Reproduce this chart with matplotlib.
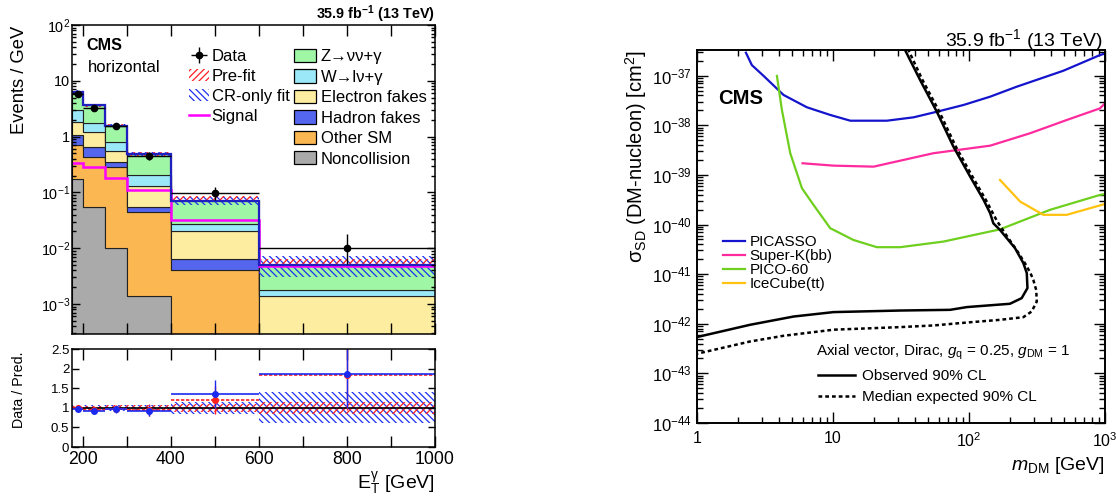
import matplotlib
matplotlib.use("Agg")
import matplotlib.pyplot as plt
import numpy as np
from matplotlib.patches import Patch
from matplotlib.lines import Line2D
from matplotlib.ticker import FixedLocator, FixedFormatter, LogLocator, NullFormatter, MultipleLocator, FuncFormatter

plt.rcParams['font.family'] = ['Liberation Sans', 'DejaVu Sans']
plt.rcParams['mathtext.fontset'] = 'custom'
plt.rcParams['mathtext.rm'] = 'Liberation Sans'
plt.rcParams['mathtext.it'] = 'Liberation Sans:italic'
plt.rcParams['mathtext.bf'] = 'Liberation Sans:bold'
plt.rcParams['mathtext.default'] = 'regular'
plt.rcParams['hatch.linewidth'] = 0.9

# ---- left: photon E_T spectrum, horizontal category ----
edges = [175, 200, 250, 300, 400, 600, 1000]
noncoll = [0.174, 0.055, 0.0099, 0.0014, 0.0, 0.0]
other_sm = [0.536, 0.381, 0.28, 0.0426, 0.0041, 0.0001]
hadron = [0.35, 0.224, 0.065, 0.011, 0.0022, 0.00005]
electron = [0.78, 0.53, 0.205, 0.075, 0.014, 0.00125]
wlnug = [1.13, 0.53, 0.23, 0.075, 0.0071, 0.0004]
znng = [3.43, 1.93, 0.79, 0.285, 0.044, 0.0033]
signal = [0.33, 0.29, 0.18, 0.112, 0.032, 0.0048]
prefit_total = [6.3, 3.6, 1.6, 0.49, 0.078, 0.0055]
prefit_unc = [0.05, 0.05, 0.06, 0.07, 0.10, 0.16]
crfit_unc = [0.06, 0.06, 0.07, 0.08, 0.15, 0.40]
data = [5.9, 3.3, 1.52, 0.45, 0.097, 0.0102]
data_err_lo = [0.3, 0.2, 0.12, 0.07, 0.025, 0.005]
data_err_hi = [0.3, 0.2, 0.12, 0.07, 0.027, 0.008]

ratio_cr = [0.97, 0.93, 0.96, 0.93, 1.35, 1.87]
ratio_pre = [1.0, 0.95, 0.98, 0.95, 1.2, 1.83]
ratio_err_lo = [0.05, 0.05, 0.08, 0.15, 0.35, 0.88]
ratio_err_hi = [0.05, 0.05, 0.08, 0.15, 0.36, 1.4]

stack_names = ["Noncollision", "Other SM", "Hadron fakes", "Electron fakes", "W\u2192l\u03bd+\u03b3", "Z\u2192\u03bd\u03bd+\u03b3"]
stack_colors = ["#aaaaaa", "#fbb852", "#5566ee", "#fdeda0", "#9ae8f8", "#9ff7a5"]

# ---- right: spin-dependent DM-nucleon limits ----
picasso_m = [2.29, 2.53, 3.09, 4.33, 6.43, 9.54, 13.4, 24.9, 39.1, 58, 91, 143, 224, 494, 919, 1000]
picasso_xs = [2.91e-37, 1.64e-37, 9.9e-38, 4.09e-38, 2.31e-38, 1.62e-38, 1.24e-38, 1.24e-38, 1.45e-38,
              1.88e-38, 2.57e-38, 3.78e-38, 6.0e-38, 1.26e-37, 2.61e-37, 2.8e-37]
superk_m = [5.97, 10.1, 19.9, 54.7, 143, 281, 523, 919, 1000]
superk_xs = [1.72e-39, 1.54e-39, 1.47e-39, 2.74e-39, 3.89e-39, 6.92e-39, 1.28e-38, 2.2e-38, 2.78e-38]
pico_m = [3.87, 4.21, 4.85, 5.91, 7.19, 9.54, 14.1, 21, 31.2, 64.9, 169, 394, 919, 1000]
pico_xs = [9.9e-38, 2.04e-38, 2.74e-39, 5.4e-40, 2.49e-40, 8.45e-41, 4.9e-41, 3.5e-41, 3.5e-41,
           4.54e-41, 8.0e-41, 1.98e-40, 3.96e-40, 4.1e-40]
icecube_m = [169, 238, 352, 523, 1000]
icecube_xs = [7.94e-40, 2.9e-40, 1.57e-40, 1.57e-40, 2.6e-40]
obs_m = [33.5, 43.7, 58, 76.8, 102, 128, 143, 151, 169, 218, 251, 266, 269, 244, 200, 96.4, 72.6,
         31.2, 10.1, 5.13, 2.46, 1.0]
obs_xs = [3.5e-37, 8.2e-38, 1.88e-38, 3.72e-39, 9.25e-40, 3.14e-40, 1.7e-40, 1.06e-40, 7.8e-41, 3.34e-41,
          1.67e-41, 1.05e-41, 5.24e-42, 3.29e-42, 2.53e-42, 2.17e-42, 1.91e-42, 1.85e-42, 1.72e-42,
          1.40e-42, 9.55e-43, 5.4e-43]
exp_m = [35.5, 45.5, 60.5, 80, 106, 133, 160, 185, 225, 260, 283, 297, 312, 315, 289, 251, 169, 96.4,
         54.7, 31.2, 10.1, 4.33, 2.46, 1.0]
exp_xs = [3.5e-37, 8.2e-38, 1.88e-38, 3.72e-39, 9.25e-40, 3.14e-40, 1.2e-40, 6.5e-41, 3.0e-41, 1.6e-41,
          1.05e-41, 7.7e-42, 4.8e-42, 2.81e-42, 1.77e-42, 1.36e-42, 1.2e-42, 1.06e-42, 9.25e-43,
          8.57e-43, 7.6e-43, 5.73e-43, 4.4e-43, 2.49e-43]
xs_ticks = [1e-44, 1e-43, 1e-42, 1e-41, 1e-40, 1e-39, 1e-38, 1e-37]
xs_ticklabels = ['10$^{-44}$', '10$^{-43}$', '10$^{-42}$', '10$^{-41}$', '10$^{-40}$', '10$^{-39}$',
                 '10$^{-38}$', '10$^{-37}$']

fig = plt.figure(figsize=(11.16, 4.97), dpi=100)
W, H = 1116.0, 497.0

def fx(px):
    return px / W

def fy(py):
    return 1 - py / H

ax = fig.add_axes([fx(72), fy(334), fx(435) - fx(72), fy(25) - fy(334)])
axr = fig.add_axes([fx(72), fy(447), fx(435) - fx(72), fy(349) - fy(447)])
ax2 = fig.add_axes([fx(697), fy(423), fx(1105) - fx(697), fy(50) - fy(423)])

# stacked backgrounds
edges_a = np.array(edges, dtype=float)
centers = 0.5 * (edges_a[1:] + edges_a[:-1])
halfw = 0.5 * (edges_a[1:] - edges_a[:-1])
comps = [noncoll, other_sm, hadron, electron, wlnug, znng]
bottom = np.full(6, 1e-6)
stack_handles = []
for vals, col, name in zip(comps, stack_colors, stack_names):
    top = bottom + np.array(vals)
    ax.stairs(top, edges_a, baseline=bottom, fill=True, facecolor=col, edgecolor='#222222', lw=0.8)
    stack_handles.append(Patch(facecolor=col, edgecolor='k', lw=0.9, label=name))
    bottom = top
total = bottom

cr_lo = total * (1 - np.array(crfit_unc))
cr_hi = total * (1 + np.array(crfit_unc))
pre = np.array(prefit_total)
pre_lo = pre * (1 - np.array(prefit_unc))
pre_hi = pre * (1 + np.array(prefit_unc))
ax.stairs(cr_hi, edges_a, baseline=cr_lo, fill=True, facecolor='none', edgecolor='#2030f0', hatch='\\\\\\\\\\', lw=0)
ax.stairs(pre_hi, edges_a, baseline=pre_lo, fill=True, facecolor='none', edgecolor='#ff2020', hatch='/////', lw=0)
ax.stairs(signal, edges_a, baseline=None, color='#ff00ff', lw=1.8)
ax.stairs(total, edges_a, baseline=None, color='#2020c0', lw=1.6)
eb = ax.errorbar(centers, data, yerr=[data_err_lo, data_err_hi], xerr=halfw, fmt='o', color='k',
                 ms=4.5, lw=1.0, capsize=0, label='Data')

ax.set_xlim(175, 1000)
ax.set_yscale('log')
ax.set_ylim(2.9e-4, 100)
ax.xaxis.set_major_locator(MultipleLocator(100))
ax.set_xticklabels([])
ax.yaxis.set_major_locator(FixedLocator([1e-3, 1e-2, 1e-1, 1, 10, 100]))
ax.yaxis.set_major_formatter(FixedFormatter(['10$^{-3}$', '10$^{-2}$', '10$^{-1}$', '1', '10', '10$^{2}$']))
ax.yaxis.set_minor_locator(LogLocator(base=10, subs=np.arange(2, 10), numticks=20))
ax.yaxis.set_minor_formatter(NullFormatter())
ax.tick_params(which='both', direction='in', top=True, right=True, width=1.0, labelsize=10.4, pad=1.5)
ax.tick_params(axis='x', which='major', length=8)
ax.tick_params(axis='y', which='major', length=6)
ax.tick_params(axis='y', which='minor', length=3)
for s in ax.spines.values():
    s.set_linewidth(1.1)

pre_handle = Patch(facecolor='none', edgecolor='#ff2020', hatch='/////', lw=0, label='Pre-fit')
cr_handle = Patch(facecolor='none', edgecolor='#2030f0', hatch='\\\\\\\\\\', lw=0, label='CR-only fit')
sig_handle = Line2D([], [], color='#ff00ff', lw=1.8, label='Signal')
leg1 = ax.legend(handles=[eb, pre_handle, cr_handle, sig_handle], loc='upper left',
                 bbox_to_anchor=(fx(189), fy(49)), bbox_transform=fig.transFigure, frameon=False,
                 fontsize=12, borderpad=0, borderaxespad=0, handlelength=1.2, handletextpad=0.15,
                 labelspacing=0.3, handleheight=0.75)
ax.add_artist(leg1)
ax.legend(handles=stack_handles[::-1], loc='upper left', bbox_to_anchor=(fx(294), fy(49)),
          bbox_transform=fig.transFigure, frameon=False, fontsize=12, borderpad=0, borderaxespad=0,
          handlelength=1.3, handletextpad=0.3, labelspacing=0.3, handleheight=0.85)

fig.text(fx(86), fy(46), 'CMS', fontsize=11.6, fontweight='bold', ha='left', va='center')
fig.text(fx(88), fy(68), 'horizontal', fontsize=12, ha='left', va='center')
fig.text(fx(435), fy(14), r'35.9 fb$^{\mathbf{-1}}$ (13 TeV)', fontsize=10.4, fontweight='bold',
         ha='right', va='center')
fig.text(fx(20), fy(26), 'Events / GeV', fontsize=13.2, rotation=90, ha='center', va='top')

# ratio panel
axr.stairs(1 + np.array(crfit_unc), edges_a, baseline=1 - np.array(crfit_unc), fill=True,
           facecolor='none', edgecolor='#2030f0', hatch='\\\\\\\\\\', lw=0)
axr.stairs(1 + np.array(prefit_unc), edges_a, baseline=1 - np.array(prefit_unc), fill=True,
           facecolor='none', edgecolor='#ff2020', hatch='/////', lw=0)
axr.axhline(1, color='k', lw=1.2)
axr.hlines(ratio_pre, edges_a[:-1], edges_a[1:], colors='#ff2020', linestyles=(0, (2, 1)), lw=1.2)
axr.errorbar(centers, ratio_pre, yerr=[ratio_err_lo, ratio_err_hi], fmt='o', color='#ff2020', ms=4,
             lw=1.0, capsize=0)
axr.hlines(ratio_cr, edges_a[:-1], edges_a[1:], colors='#1a2af0', lw=1.2)
axr.errorbar(centers, ratio_cr, yerr=[ratio_err_lo, ratio_err_hi], fmt='o', color='#1a2af0', ms=4,
             lw=1.0, capsize=0)
axr.set_xlim(175, 1000)
axr.set_ylim(0, 2.5)
axr.xaxis.set_major_locator(MultipleLocator(100))
axr.xaxis.set_major_formatter(FuncFormatter(lambda v, p: f"{v:.0f}" if round(v) % 200 == 0 else ""))
axr.yaxis.set_major_locator(MultipleLocator(0.5))
axr.yaxis.set_major_formatter(FuncFormatter(lambda v, p: f"{v:g}"))
axr.tick_params(which='both', direction='in', top=True, right=True, width=1.0, length=8)
axr.tick_params(axis='x', labelsize=12.7, pad=3)
axr.tick_params(axis='y', labelsize=9.5, pad=2, length=5)
for s in axr.spines.values():
    s.set_linewidth(1.1)
fig.text(fx(19), fy(351), 'Data / Pred.', fontsize=10.3, rotation=90, ha='center', va='top')
fig.text(fx(435), fy(483), r'E$_{\mathrm{T}}^{\gamma}$ [GeV]', fontsize=14, ha='right', va='center')

# right panel
ax2.plot(picasso_m, picasso_xs, color='#1414cc', lw=1.6, label='PICASSO')
ax2.plot(superk_m, superk_xs, color='#ff2a9e', lw=1.6, label='Super-K(bb)')
ax2.plot(pico_m, pico_xs, color='#6fcf1f', lw=1.6, label='PICO-60')
ax2.plot(icecube_m, icecube_xs, color='#ffc20e', lw=1.6, label='IceCube(tt)')
ax2.plot(obs_m, obs_xs, color='k', lw=1.8)
ax2.plot(exp_m, exp_xs, color='k', lw=1.8, ls=(0, (1.5, 1.2)))
ax2.set_xscale('log')
ax2.set_yscale('log')
ax2.set_xlim(1, 1000)
ax2.set_ylim(1e-44, 3.3e-37)
ax2.xaxis.set_major_locator(FixedLocator([1, 10, 100, 1000]))
ax2.xaxis.set_major_formatter(FixedFormatter(['1', '10', '10$^{2}$', '10$^{3}$']))
ax2.xaxis.set_minor_locator(LogLocator(base=10, subs=np.arange(2, 10), numticks=20))
ax2.xaxis.set_minor_formatter(NullFormatter())
ax2.yaxis.set_major_locator(FixedLocator(xs_ticks))
ax2.yaxis.set_major_formatter(FixedFormatter(xs_ticklabels))
ax2.yaxis.set_minor_locator(LogLocator(base=10, subs=np.arange(2, 10), numticks=20))
ax2.yaxis.set_minor_formatter(NullFormatter())
ax2.tick_params(which='both', direction='in', top=True, right=True, width=1.0, labelsize=12)
ax2.tick_params(which='major', length=8)
ax2.tick_params(which='minor', length=4)
ax2.tick_params(axis='x', pad=6, labelsize=11.5)
for s in ax2.spines.values():
    s.set_linewidth(1.4)

leg3 = ax2.legend(loc='upper left', bbox_to_anchor=(fx(723), fy(235)), bbox_transform=fig.transFigure,
                  frameon=False, fontsize=11, borderpad=0, borderaxespad=0, handlelength=1.45,
                  handletextpad=0.3, labelspacing=0.0)
ax2.add_artist(leg3)
lim_handles = [Line2D([], [], color='k', lw=1.8, label='Observed 90% CL'),
               Line2D([], [], color='k', lw=1.8, ls=(0, (1.5, 1.2)), label='Median expected 90% CL')]
ax2.legend(handles=lim_handles, loc='upper left', bbox_to_anchor=(fx(818), fy(369)),
           bbox_transform=fig.transFigure, frameon=False, fontsize=11, borderpad=0, borderaxespad=0,
           handlelength=2.4, handletextpad=0.45, labelspacing=0.45)
fig.text(fx(816), fy(352), r'Axial vector, Dirac, $\mathit{g}_{\mathrm{q}}$ = 0.25, $\mathit{g}_{\mathrm{DM}}$ = 1',
         fontsize=11, ha='left', va='center')
fig.text(fx(718), fy(98), 'CMS', fontsize=14.6, fontweight='bold', ha='left', va='center')
fig.text(fx(1103), fy(40), r'35.9 fb$^{-1}$ (13 TeV)', fontsize=14, ha='right', va='center')
fig.text(fx(636), fy(50), r'$\sigma_{\mathrm{SD}}$ (DM-nucleon) [cm$^{2}$]', fontsize=14.5, rotation=90,
         ha='center', va='top')
fig.text(fx(1105), fy(465), r'$\mathit{m}_{\mathrm{DM}}$ [GeV]', fontsize=14, ha='right', va='center')

fig.savefig('out.png', dpi=100)
